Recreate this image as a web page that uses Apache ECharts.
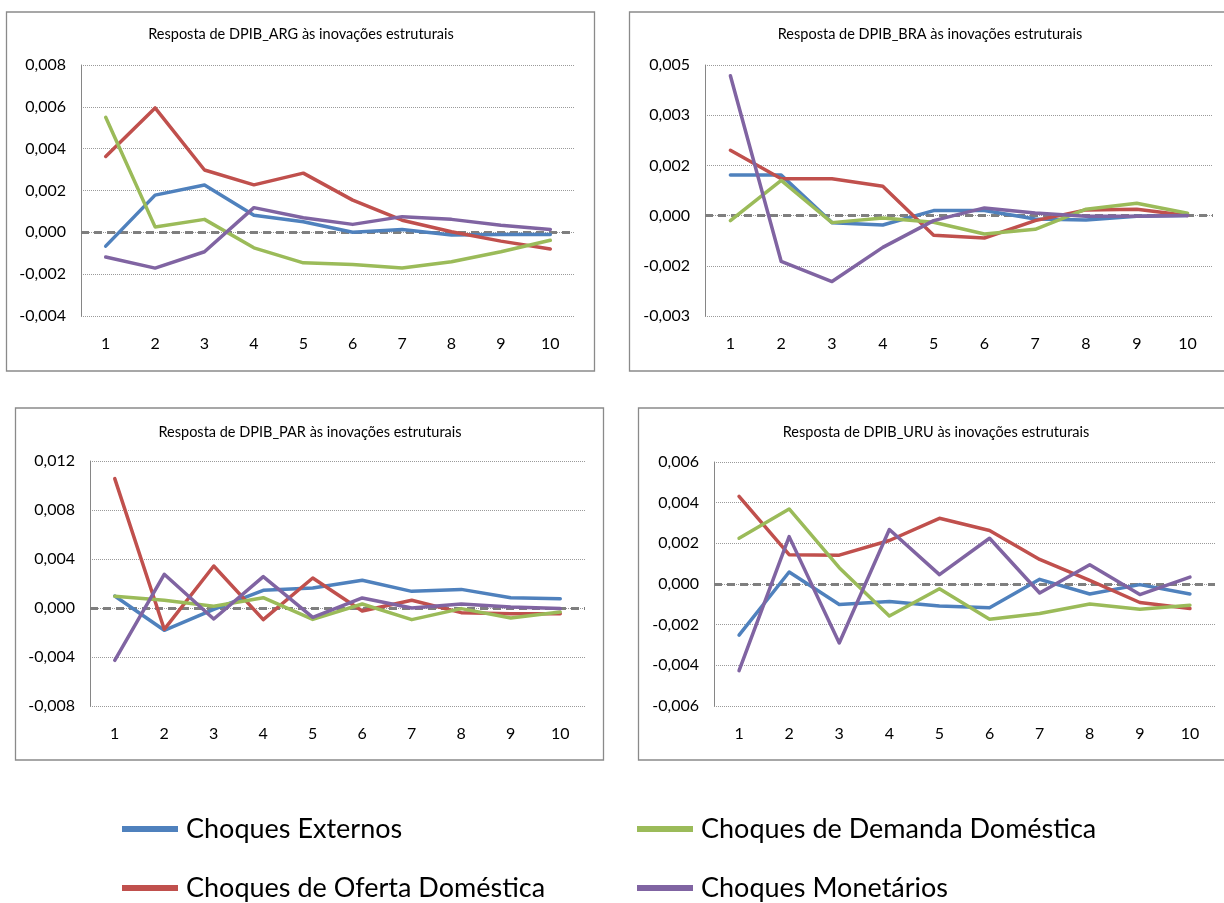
<!DOCTYPE html>
<html>
<head>
<meta charset="utf-8">
<script src="https://cdn.jsdelivr.net/npm/echarts@6/dist/echarts.min.js"></script>
<style>
  html, body { margin: 0; padding: 0; background: #ffffff; }
  #chart { width: 1224px; height: 903px; }
</style>
</head>
<body>
<div id="chart"></div>
<script>
// Horizons of the impulse responses
const periods = ['1', '2', '3', '4', '5', '6', '7', '8', '9', '10'];

// Shock names (legend order)
const shockNames = [
  'Choques Externos',
  'Choques de Oferta Doméstica',
  'Choques de Demanda Doméstica',
  'Choques Monetários'
];

// Argentina
const argExternos  = [-0.00066, 0.00178, 0.00226, 0.00082, 0.00051, 0.00000, 0.00014, -0.00013, -0.00010, -0.00010];
const argOferta    = [0.00363, 0.00595, 0.00298, 0.00227, 0.00283, 0.00154, 0.00058, 0.00003, -0.00042, -0.00080];
const argDemanda   = [0.00550, 0.00026, 0.00062, -0.00074, -0.00146, -0.00154, -0.00171, -0.00141, -0.00093, -0.00038];
const argMonetario = [-0.00118, -0.00171, -0.00093, 0.00118, 0.00070, 0.00038, 0.00075, 0.00062, 0.00034, 0.00014];

// Brasil
const braExternos  = [0.00121, 0.00121, -0.00021, -0.00028, 0.00015, 0.00015, -0.00010, -0.00013, -0.00002, 0.00000];
const braOferta    = [0.00195, 0.00110, 0.00110, 0.00088, -0.00059, -0.00067, -0.00015, 0.00017, 0.00019, 0.00000];
const braDemanda   = [-0.00015, 0.00105, -0.00021, -0.00007, -0.00020, -0.00055, -0.00041, 0.00019, 0.00037, 0.00007];
const braMonetario = [0.00418, -0.00137, -0.00197, -0.00095, -0.00015, 0.00023, 0.00008, -0.00002, -0.00002, 0.00000];

// Paraguai
const parExternos  = [0.00098, -0.00182, -0.00011, 0.00144, 0.00163, 0.00226, 0.00136, 0.00152, 0.00084, 0.00076];
const parOferta    = [0.01056, -0.00174, 0.00343, -0.00095, 0.00245, -0.00024, 0.00063, -0.00038, -0.00046, -0.00046];
const parDemanda   = [0.00095, 0.00063, 0.00014, 0.00084, -0.00093, 0.00033, -0.00095, -0.00005, -0.00082, -0.00033];
const parMonetario = [-0.00427, 0.00275, -0.00090, 0.00256, -0.00076, 0.00082, 0.00000, 0.00033, 0.00008, -0.00005];

// Uruguai
const uruExternos  = [-0.00251, 0.00059, -0.00101, -0.00086, -0.00108, -0.00117, 0.00023, -0.00049, -0.00003, -0.00049];
const uruOferta    = [0.00431, 0.00144, 0.00142, 0.00214, 0.00323, 0.00263, 0.00121, 0.00018, -0.00091, -0.00121];
const uruDemanda   = [0.00225, 0.00369, 0.00080, -0.00157, -0.00023, -0.00173, -0.00145, -0.00098, -0.00124, -0.00104];
const uruMonetario = [-0.00426, 0.00233, -0.00290, 0.00268, 0.00046, 0.00225, -0.00044, 0.00095, -0.00052, 0.00034];

// Panel titles
const panelTitles = [
  'Resposta de DPIB_ARG às inovações estruturais',
  'Resposta de DPIB_BRA às inovações estruturais',
  'Resposta de DPIB_PAR às inovações estruturais',
  'Resposta de DPIB_URU às inovações estruturais'
];

// Value-axis ranges per panel: [min, max, interval]
const axisRanges = [
  [-0.004, 0.008, 0.002],
  [-0.003, 0.0045, 0.0015],
  [-0.008, 0.012, 0.004],
  [-0.006, 0.006, 0.002]
];

const panelData = [
  [argExternos, argOferta, argDemanda, argMonetario],
  [braExternos, braOferta, braDemanda, braMonetario],
  [parExternos, parOferta, parDemanda, parMonetario],
  [uruExternos, uruOferta, uruDemanda, uruMonetario]
];

const shockColors = ['#4F81BD', '#C0504D', '#9BBB59', '#8064A2'];
const FONT = 'Lato, "Noto Sans", sans-serif';

// Plot areas and frames of the four panels
const grids = [
  { left: 81,  top: 65,  width: 494, height: 251 },
  { left: 705, top: 65,  width: 508, height: 251 },
  { left: 90,  top: 461, width: 495, height: 245 },
  { left: 714, top: 462, width: 501, height: 244 }
];
const frames = [
  { x: 6.5,   y: 12, w: 588, h: 359 },
  { x: 629.5, y: 12, w: 610, h: 359 },
  { x: 15.5,  y: 408, w: 588, h: 352 },
  { x: 638.5, y: 408, w: 610, h: 352 }
];
const titleCenters = [[301, 34], [930, 34], [310, 432], [936, 432]];

// Axis labels with a decimal comma, rounded half away from zero
function fmt(v) {
  const s = v < 0 ? -1 : 1;
  const r = Math.round(Math.abs(v) * 1000 + 1e-7) / 1000;
  if (r === 0) return '0,000';
  return (s < 0 ? '-' : '') + r.toFixed(3).replace('.', ',');
}

const xAxes = [], yAxes = [], series = [], graphics = [];

grids.forEach((g, i) => {
  xAxes.push({
    type: 'category',
    gridIndex: i,
    data: periods,
    boundaryGap: true,
    axisLine: { show: false },
    axisTick: { show: false },
    axisLabel: { color: '#000', fontFamily: FONT, fontSize: 16, margin: 20 },
    splitLine: { show: false }
  });
  const [mn, mx, iv] = axisRanges[i];
  yAxes.push({
    type: 'value',
    gridIndex: i,
    min: mn,
    max: mx,
    interval: iv,
    axisLine: { show: true, lineStyle: { color: '#868686', width: 1 } },
    axisTick: { show: false },
    axisLabel: { color: '#000', fontFamily: FONT, fontSize: 16, margin: 15, formatter: fmt },
    splitLine: { show: true, lineStyle: { color: '#9a9a9a', width: 1, type: [1, 1] } }
  });

  panelData[i].forEach((vals, k) => {
    const s = {
      name: shockNames[k],
      type: 'line',
      xAxisIndex: i,
      yAxisIndex: i,
      data: vals,
      showSymbol: false,
      symbol: 'none',
      smooth: false,
      lineStyle: { color: shockColors[k], width: 3.5, cap: 'round', join: 'round' },
      itemStyle: { color: shockColors[k] },
      emphasis: { disabled: true },
      animation: false,
      z: 3 + k
    };
    if (k === 0) {
      // dashed zero reference across the plot width
      s.markLine = {
        silent: true,
        symbol: 'none',
        label: { show: false },
        emphasis: { disabled: true },
        lineStyle: { color: '#7f7f7f', width: 3, type: [8, 5] },
        data: [{ yAxis: 0 }],
        z: 1
      };
    }
    series.push(s);
  });

  const f = frames[i];
  graphics.push({
    type: 'rect',
    shape: { x: f.x, y: f.y, width: f.w, height: f.h },
    style: { fill: 'none', stroke: '#8a8a8a', lineWidth: 1.3 },
    silent: true,
    z: 0
  });
  graphics.push({
    type: 'text',
    x: titleCenters[i][0],
    y: titleCenters[i][1],
    style: {
      text: panelTitles[i],
      align: 'center',
      verticalAlign: 'middle',
      fill: '#000',
      font: '14.5px ' + FONT
    },
    silent: true
  });
});

// Legend: two rows, two columns
const legendPos = [
  { left: 122, top: 813 },
  { left: 122, top: 872 },
  { left: 637, top: 813 },
  { left: 637, top: 872 }
];
const legends = shockNames.map((n, k) => ({
  data: [n],
  left: legendPos[k].left,
  top: legendPos[k].top,
  padding: 0,
  icon: 'rect',
  itemWidth: 56,
  itemHeight: 6,
  selectedMode: false,
  textStyle: { color: '#000', fontFamily: FONT, fontSize: 27, lineHeight: 32, padding: [0, 0, 0, 3] }
}));

const chart = echarts.init(document.getElementById('chart'), null, { renderer: 'canvas' });
chart.setOption({
  backgroundColor: '#ffffff',
  animation: false,
  grid: grids.map(g => Object.assign({ outerBoundsMode: 'none', containLabel: false }, g)),
  xAxis: xAxes,
  yAxis: yAxes,
  legend: legends,
  graphic: graphics,
  series: series
});
</script>
</body>
</html>
